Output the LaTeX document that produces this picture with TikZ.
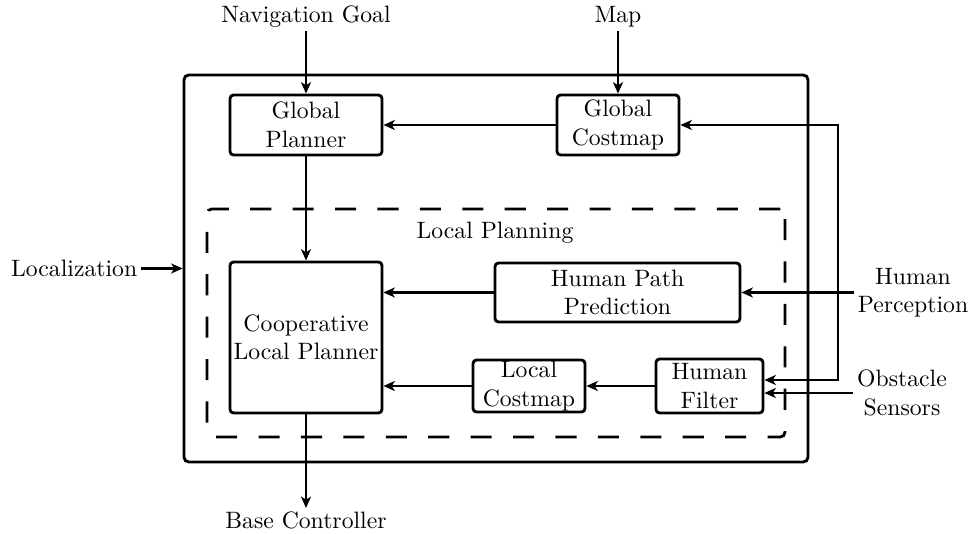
\documentclass[tikz,border=0pt]{standalone}
\usetikzlibrary{arrows.meta}
\begin{document}
\begin{tikzpicture}[x=0.422pt, y=-0.422pt,
  >={Stealth[length=4.8pt,width=4.2pt,inset=1.3pt]},
  every path/.style={line width=1.2pt},
  blk/.style={draw, rounded corners=1.5pt, align=center, inner sep=0pt, line width=1.2pt},
  lbl/.style={align=center, inner sep=1pt},
  conn/.style={->, line width=1.2pt}]
\useasboundingbox (0,0) rectangle (972,534);
% frames
\node[draw, rounded corners=2pt, line width=1.2pt, minimum width={624*0.422pt}, minimum height={387*0.422pt}, inner sep=0pt] (outer) at (496,268.5) {};
\node[draw, rounded corners=2pt, line width=1.2pt, dash pattern=on 8.9pt off 9pt, minimum width={578*0.422pt}, minimum height={228*0.422pt}, inner sep=0pt] (local) at (496,323) {};
\node[lbl] (lp) at (495,233) {Local Planning};
% blocks
\node[blk, minimum width={152*0.422pt}, minimum height={60*0.422pt}] (gp) at (306,125) {Global\\Planner};
\node[blk, minimum width={122*0.422pt}, minimum height={60*0.422pt}] (gc) at (618,125) {Global\\Costmap};
\node[blk, minimum width={152*0.422pt}, minimum height={151*0.422pt}] (clp) at (306,337.5) {Cooperative\\Local Planner};
\node[blk, minimum width={245*0.422pt}, minimum height={59*0.422pt}] (hpp) at (617.5,292.5) {Human Path\\Prediction};
\node[blk, minimum width={112*0.422pt}, minimum height={52*0.422pt}] (lc) at (529,386) {Local\\Costmap};
\node[blk, minimum width={107*0.422pt}, minimum height={54*0.422pt}] (hf) at (709.5,386) {Human\\Filter};
% external labels
\node[lbl, anchor=south] (ng) at (306,31) {Navigation Goal};
\node[lbl, anchor=south] (map) at (618,31) {Map};
\node[lbl, anchor=east] (loc) at (141,268.5) {Localization};
\node[lbl, anchor=north] (bc) at (306,508) {Base Controller};
\node[lbl] (hp) at (913,292.5) {Human\\Perception};
\node[lbl] (os) at (902,393) {Obstacle\\Sensors};
\coordinate (fb) at (838,380);
% connectors
\draw[conn] (ng) -- (gp);
\draw[conn] (map) -- (gc);
\draw[conn] (loc) -- (outer.west);
\draw[conn] (gc) -- (gp);
\draw[conn] (gp) -- (clp);
\draw[conn] (clp) -- (bc);
\draw[conn] (hp.west) -- (hpp.east);
\draw[conn] (hpp.west) -- (hpp.west -| clp.east);
\draw[conn] (lc.west) -- (lc.west -| clp.east);
\draw[conn] (hf) -- (lc);
\draw[conn] (os.west) -- (os.west -| hf.east);
\draw[<->, line width=1.2pt] (hf.east |- fb) -- (fb) |- (gc.east);
\end{tikzpicture}
\end{document}
